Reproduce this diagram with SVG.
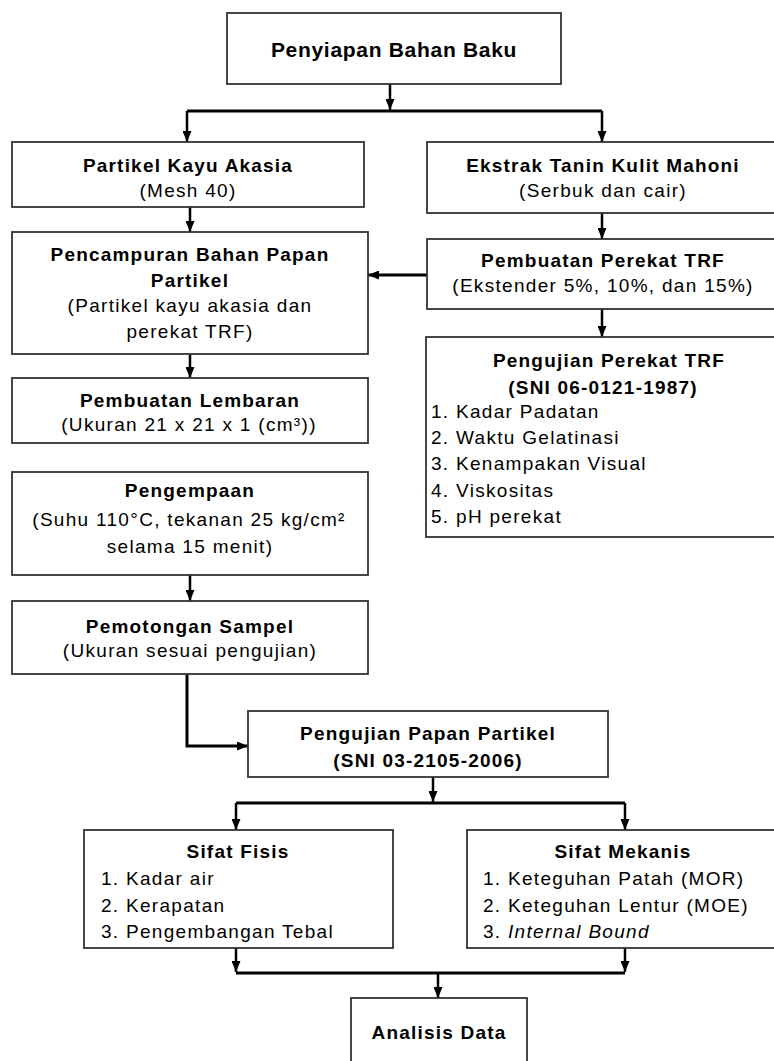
<svg xmlns="http://www.w3.org/2000/svg" width="774" height="1061" viewBox="0 0 774 1061">
<style>
text{font-family:"Liberation Sans",Arial,sans-serif;font-size:19px;fill:#000}
.b{font-weight:bold;letter-spacing:1.2px;text-anchor:middle}
.c{letter-spacing:1.3px;text-anchor:middle}
.l{letter-spacing:1.3px;text-anchor:start}
.t{font-size:21px;letter-spacing:0.7px}
.box{fill:#fff;stroke:#333;stroke-width:1.8}
.con{fill:none;stroke:#000;stroke-width:2.5}
.bar{fill:none;stroke:#000;stroke-width:3}
</style>
<defs>
<marker id="ah" viewBox="0 0 10 10" refX="10" refY="5" markerWidth="11" markerHeight="9" markerUnits="userSpaceOnUse" orient="auto" preserveAspectRatio="none">
<path d="M0,0 L10,5 L0,10 z" fill="#000"/>
</marker>
</defs>
<rect width="774" height="1061" fill="#fff"/>

<g id="connectors">
<path class="con" d="M390,84 V110" marker-end="url(#ah)"/>
<path class="bar" d="M187,111 H602"/>
<path class="con" d="M187,111 V142" marker-end="url(#ah)"/>
<path class="con" d="M602,111 V142" marker-end="url(#ah)"/>
<path class="con" d="M190,207 V232" marker-end="url(#ah)"/>
<path class="con" d="M602,213 V239" marker-end="url(#ah)"/>
<path class="bar" d="M427,275 H368" marker-end="url(#ah)"/>
<path class="con" d="M602,309 V337" marker-end="url(#ah)"/>
<path class="con" d="M190,354 V378" marker-end="url(#ah)"/>
<path class="con" d="M190,575 V601" marker-end="url(#ah)"/>
<path class="bar" d="M187,674 V746 H248" marker-end="url(#ah)"/>
<path class="con" d="M433,777 V802" marker-end="url(#ah)"/>
<path class="bar" d="M236,803 H625"/>
<path class="con" d="M236,803 V830" marker-end="url(#ah)"/>
<path class="con" d="M625,803 V830" marker-end="url(#ah)"/>
<path class="con" d="M236,948 V972" marker-end="url(#ah)"/>
<path class="con" d="M625,948 V972" marker-end="url(#ah)"/>
<path class="bar" d="M236,973 H625"/>
<path class="con" d="M438,973 V998" marker-end="url(#ah)"/>
</g>

<g id="penyiapan">
<rect class="box" x="227" y="13" width="334" height="71"/>
<text class="b t" x="394" y="57">Penyiapan Bahan Baku</text>
</g>

<g id="partikel-kayu">
<rect class="box" x="12" y="142" width="352" height="65"/>
<text class="b" x="188" y="172">Partikel Kayu Akasia</text>
<text class="c" x="188" y="197">(Mesh 40)</text>
</g>

<g id="ekstrak">
<rect class="box" x="427" y="142" width="352" height="71"/>
<text class="b" x="603" y="172">Ekstrak Tanin Kulit Mahoni</text>
<text class="c" x="603" y="197">(Serbuk dan cair)</text>
</g>

<g id="pencampuran">
<rect class="box" x="12" y="232" width="356" height="122"/>
<text class="b" x="190" y="261">Pencampuran Bahan Papan</text>
<text class="b" x="190" y="287">Partikel</text>
<text class="c" x="190" y="312">(Partikel kayu akasia dan</text>
<text class="c" x="190" y="338">perekat TRF)</text>
</g>

<g id="pembuatan-perekat">
<rect class="box" x="427" y="239" width="352" height="70"/>
<text class="b" x="603" y="267">Pembuatan Perekat TRF</text>
<text class="c" x="603" y="292">(Ekstender 5%, 10%, dan 15%)</text>
</g>

<g id="pengujian-perekat">
<rect class="box" x="426" y="337" width="353" height="200"/>
<text class="b" x="609" y="367">Pengujian Perekat TRF</text>
<text class="b" x="603" y="394">(SNI 06-0121-1987)</text>
<text class="l" x="431" y="418">1. Kadar Padatan</text>
<text class="l" x="431" y="444">2. Waktu Gelatinasi</text>
<text class="l" x="431" y="470">3. Kenampakan Visual</text>
<text class="l" x="431" y="497">4. Viskositas</text>
<text class="l" x="431" y="523">5. pH perekat</text>
</g>

<g id="pembuatan-lembaran">
<rect class="box" x="12" y="378" width="356" height="65"/>
<text class="b" x="190" y="407">Pembuatan Lembaran</text>
<text class="c" x="189" y="431">(Ukuran 21 x 21 x 1 (cm³))</text>
</g>

<g id="pengempaan">
<rect class="box" x="12" y="472" width="356" height="103"/>
<text class="b" x="190" y="497">Pengempaan</text>
<text class="c" x="189" y="526">(Suhu 110°C, tekanan 25 kg/cm²</text>
<text class="c" x="190" y="553">selama 15 menit)</text>
</g>

<g id="pemotongan">
<rect class="box" x="12" y="601" width="356" height="73"/>
<text class="b" x="190" y="633">Pemotongan Sampel</text>
<text class="c" x="190" y="657">(Ukuran sesuai pengujian)</text>
</g>

<g id="pengujian-papan">
<rect class="box" x="248" y="711" width="360" height="66"/>
<text class="b" x="428" y="740">Pengujian Papan Partikel</text>
<text class="b" x="428" y="767">(SNI 03-2105-2006)</text>
</g>

<g id="sifat-fisis">
<rect class="box" x="84" y="830" width="309" height="118"/>
<text class="b" x="238" y="858">Sifat Fisis</text>
<text class="l" x="101" y="885">1. Kadar air</text>
<text class="l" x="101" y="912">2. Kerapatan</text>
<text class="l" x="101" y="938">3. Pengembangan Tebal</text>
</g>

<g id="sifat-mekanis">
<rect class="box" x="467" y="830" width="316" height="118"/>
<text class="b" x="623" y="858">Sifat Mekanis</text>
<text class="l" x="483" y="885">1. Keteguhan Patah (MOR)</text>
<text class="l" x="483" y="912">2. Keteguhan Lentur (MOE)</text>
<text class="l" x="483" y="938">3. <tspan font-style="italic">Internal Bound</tspan></text>
</g>

<g id="analisis">
<rect class="box" x="351" y="998" width="176" height="80"/>
<text class="b" x="439" y="1039">Analisis Data</text>
</g>
</svg>
